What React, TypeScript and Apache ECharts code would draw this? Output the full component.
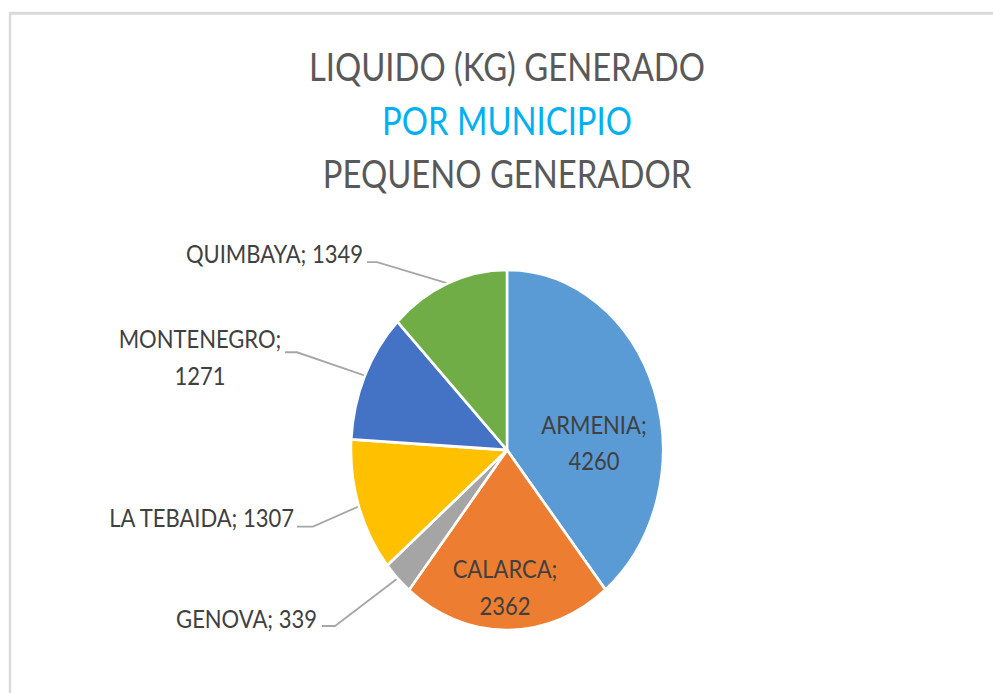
import React, { useEffect, useRef } from "react";
import * as echarts from "echarts";

const municipios = ["ARMENIA", "CALARCA", "GENOVA", "LA TEBAIDA", "MONTENEGRO", "QUIMBAYA"];
const liquidoKg = [4260, 2362, 339, 1307, 1271, 1349];
const colores = ["#5B9BD5", "#ED7D31", "#A5A5A5", "#FFC000", "#4472C4", "#70AD47"];
const tituloLineas = ["LIQUIDO (KG) GENERADO", "POR MUNICIPIO", "PEQUENO GENERADOR"];

// vertical stretch of the reference picture (its pie is an ellipse)
const STRETCH = 1.155;
const W = 993;
const H = 693 / STRETCH;

// label placement (chart coords before stretch)
const labelPlace: Record<string, any> = {
  ARMENIA: { x: 594, y: 383, align: "center", inside: true, twoLines: true },
  CALARCA: { x: 505, y: 508, align: "center", inside: true, twoLines: true },
  GENOVA: { x: 317, y: 535, align: "right", lineY: 542, lineX0: 322, lineX1: 335 },
  "LA TEBAIDA": { x: 294, y: 448, align: "right", lineY: 456, lineX0: 297, lineX1: 313 },
  MONTENEGRO: { x: 200, y: 309, align: "center", twoLines: true, lineY: 305, lineX0: 285, lineX1: 297 },
  QUIMBAYA: { x: 363, y: 219, align: "right", lineY: 227, lineX0: 367, lineX1: 377 },
};

export default function App() {
  const ref = useRef<HTMLDivElement>(null);
  useEffect(() => {
    if (!ref.current) return;
    const chart = echarts.init(ref.current, null, { renderer: "svg" });
    const font = "Lato, 'Open Sans', sans-serif";
    const data = municipios.map((m, i) => {
      const p = labelPlace[m];
      return {
        name: m,
        value: liquidoKg[i],
        itemStyle: { color: colores[i] },
        label: {
          position: p.inside ? "inside" : "outside",
          formatter: p.twoLines ? "{b};\n{c}" : "{b}; {c}",
        },
        labelLine: { show: !p.inside },
      };
    });
    chart.setOption({
      animation: false,
      backgroundColor: "#ffffff",
      title: {
        left: 507,
        top: 35,
        textAlign: "center",
        padding: 0,
        text:
          "{a|" + tituloLineas[0] + "}\n{b|" + tituloLineas[1] + "}\n{a|" + tituloLineas[2] + "}",
        textStyle: {
          fontFamily: font,
          fontWeight: "normal",
          rich: {
            a: { fontFamily: font, fontWeight: "normal", fontSize: 32.8, color: "#595959", lineHeight: 46 },
            b: { fontFamily: font, fontWeight: "normal", fontSize: 32.8, color: "#00B0F0", lineHeight: 46 },
          },
        },
      },
      graphic: [
        {
          type: "rect",
          shape: { x: 10, y: 11.5, width: 1200, height: 900 },
          style: { fill: "none", stroke: "#D9D9D9", lineWidth: 2.5 },
          silent: true,
        },
      ],
      series: [
        {
          type: "pie",
          center: [507, 389.6],
          radius: 156,
          startAngle: 90,
          clockwise: true,
          avoidLabelOverlap: false,
          itemStyle: { borderColor: "#ffffff", borderWidth: 2.5 },
          label: {
            show: true,
            fontFamily: font,
            fontSize: 22,
            lineHeight: 32,
            color: "#404040",
          },
          labelLine: {
            show: true,
            length: 10,
            length2: 10,
            lineStyle: { color: "#A6A6A6", width: 1.6 },
          },
          labelLayout: (params: any) => {
            const m = municipios[params.dataIndex];
            const p = labelPlace[m];
            const out: any = { x: p.x, y: p.y, align: p.align, verticalAlign: "middle" };
            if (!p.inside && params.labelLinePoints && params.labelLinePoints[0]) {
              out.labelLinePoints = [
                params.labelLinePoints[0],
                [p.lineX1, p.lineY],
                [p.lineX0, p.lineY],
              ];
            }
            return out;
          },
          data,
        },
      ],
    });
    return () => chart.dispose();
  }, []);
  return (
    <div
      style={{
        position: "absolute",
        left: 0,
        top: 0,
        width: W,
        height: 693,
        overflow: "hidden",
        background: "#fff",
      }}
    >
      <div
        ref={ref}
        style={{
          width: W,
          height: H,
          transform: `scaleY(${STRETCH})`,
          transformOrigin: "0 0",
        }}
      />
    </div>
  );
}
